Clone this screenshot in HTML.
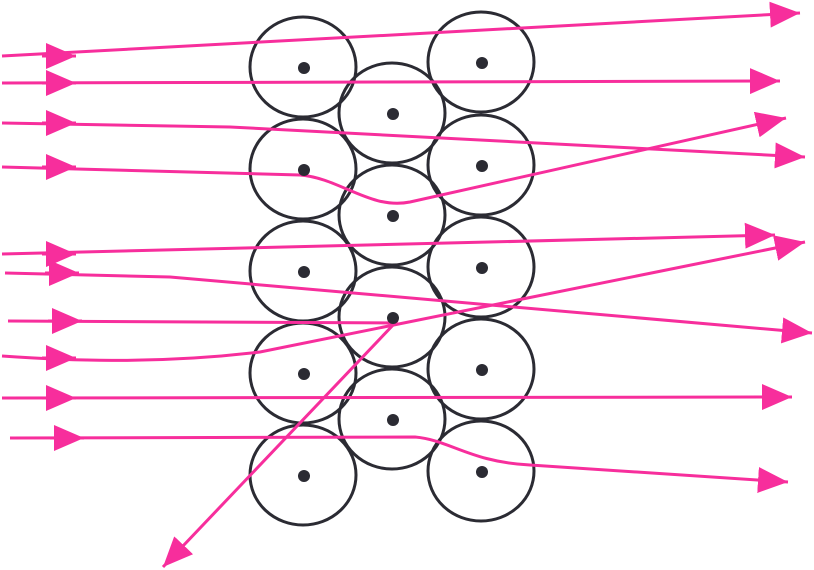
<!DOCTYPE html>
<html><head><meta charset="utf-8"><style>html,body{margin:0;padding:0;background:#fff;}svg{display:block}</style></head>
<body>
<svg width="814" height="570" viewBox="0 0 814 570">
<defs>
<marker id="ah" markerUnits="userSpaceOnUse" markerWidth="32" markerHeight="26" refX="30" refY="13" orient="auto">
<path d="M0,0 L30,13 L0,26 Z" fill="#f72e9c"/>
</marker>
</defs>
<g id="circles" fill="none" stroke="#2b2b33" stroke-width="3"></g>
<g id="rays" fill="none" stroke="#f72e9c" stroke-width="3"></g>
<g id="dots" fill="#2b2b33"></g>
</svg>
<script>
const centers=[[303,67],[303,169],[303,271],[303,373],[303,475],[392,113],[392,215],[392,317],[392,419],[481,62],[481,165],[481,267],[481,369],[481,471]];
const rays=[
"M2,56 L800,13",
"M2,83 L780,81",
"M2,123 L230,127 L805,157",
"M2,167 L300,175 C340,178 370,210 410,202 L786,118",
"M2,254 L775,235",
"M5,273 L170,277 L812,333",
"M8,321 L395,323 L163,567",
"M2,356 C60,360 150,365 260,352 L805,242",
"M2,398 L792,397",
"M10,438 L415,437 C450,440 470,462 530,465 L788,482"
];
const starts=[[2,56],[2,83],[2,123],[2,167],[2,254],[5,273],[8,321],[2,358],[2,398],[10,438]];
const NS="http://www.w3.org/2000/svg";
const cg=document.getElementById('circles'),dg=document.getElementById('dots'),rg=document.getElementById('rays');
centers.forEach((c,i)=>{
 const e=document.createElementNS(NS,'ellipse');e.setAttribute('cx',c[0]);e.setAttribute('cy',c[1]);e.setAttribute('rx',53);e.setAttribute('ry',50);
 
 
 cg.appendChild(e);
 const d=document.createElementNS(NS,'circle');d.setAttribute('cx',c[0]+1);d.setAttribute('cy',c[1]+1);d.setAttribute('r',6);
 
 
 dg.appendChild(d);
});
rays.forEach((r,i)=>{
 const p=document.createElementNS(NS,'path');p.setAttribute('d',r);p.setAttribute('marker-end','url(#ah)');
 
 
 rg.appendChild(p);
 const s=starts[i];
 const m=document.createElementNS(NS,'path');m.setAttribute('d','M'+(s[0]+40)+','+s[1]+' L'+(s[0]+74)+','+s[1]);m.setAttribute('marker-end','url(#ah)');
 
 
 rg.appendChild(m);
});
</script>
</body></html>
